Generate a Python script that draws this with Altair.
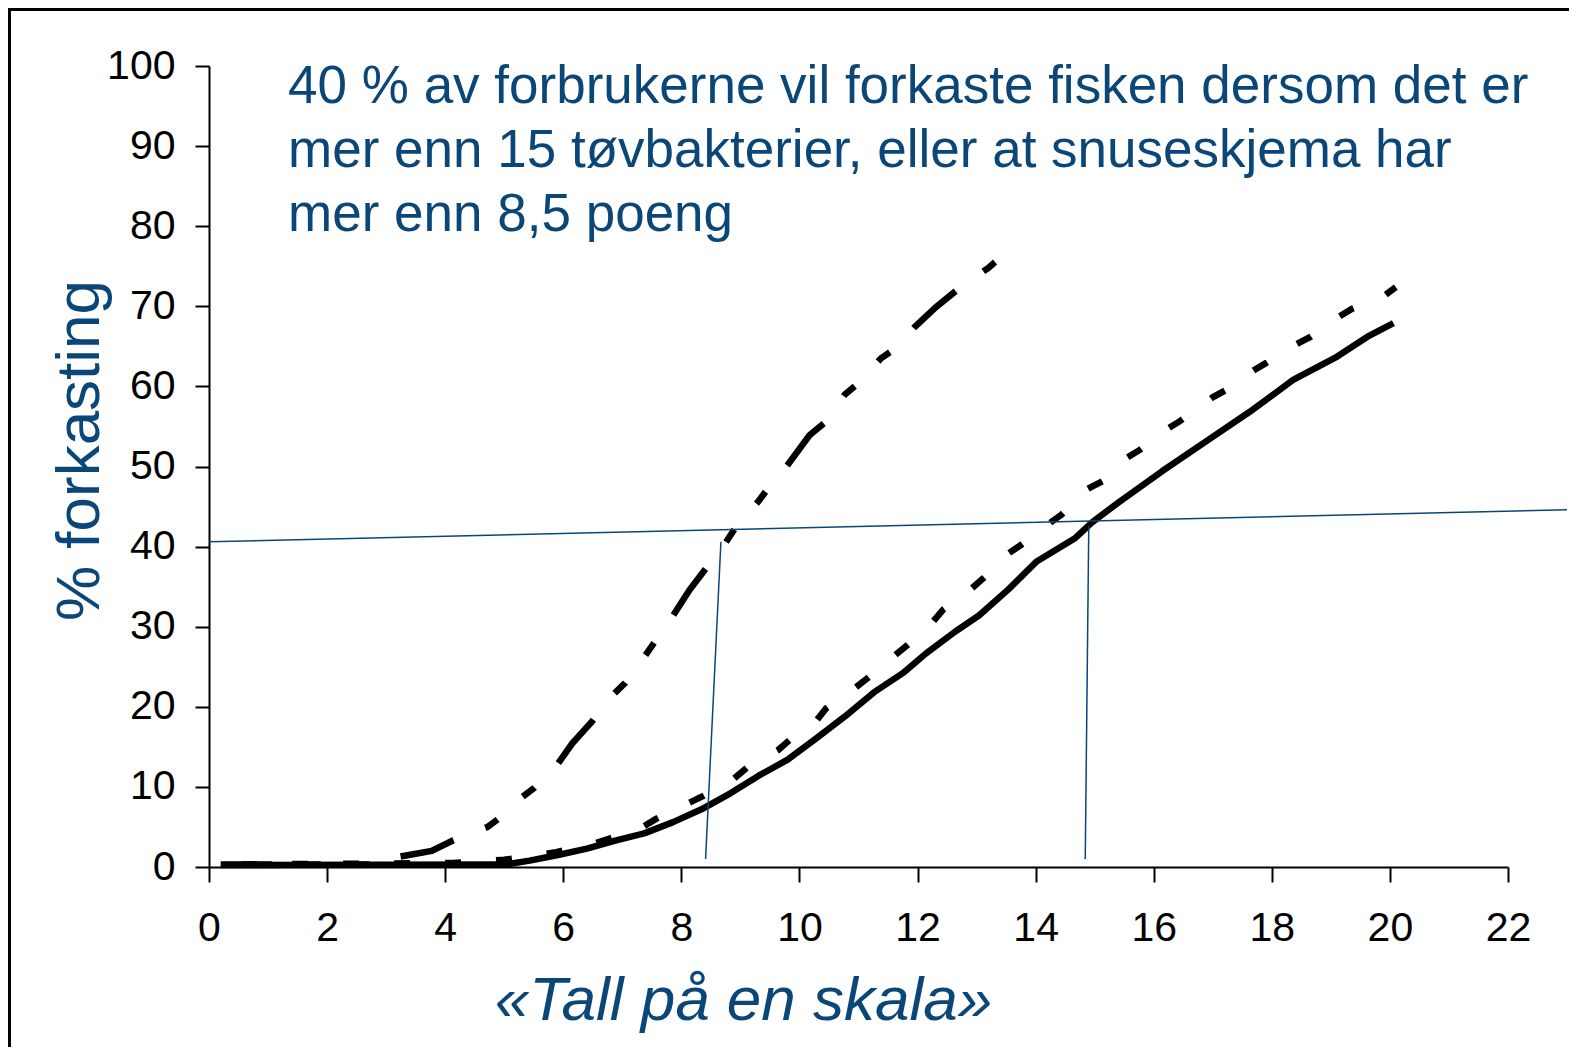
import altair as alt
import pandas as pd

BLUE = "#0A4678"
FONT = "Liberation Sans"

# Dash-dot curve (steepest)
a_x = [0.2, 3.1, 3.24, 3.77, 4.13, 4.72, 4.9, 5.3, 5.51, 5.91, 6.15, 6.48, 6.84, 7.05, 7.37, 7.53,
       7.86, 8.14, 8.42, 8.75, 8.91, 9.31, 9.44, 9.80, 10.17, 10.45, 10.77, 10.98, 11.38, 11.58,
       11.95, 12.31, 12.68, 13.20, 13.45]
a_y = [0.3, 0.3, 1.3, 2.0, 3.3, 5.0, 6.0, 8.7, 9.9, 12.9, 15.4, 18.1, 21.5, 23.0, 26.2, 27.9,
       31.4, 34.6, 37.3, 40.5, 42.3, 45.7, 47.0, 50.2, 53.9, 55.6, 59.0, 60.3, 63.5, 64.5,
       67.4, 69.9, 72.1, 74.8, 76.4]

# Dashed curve
b_x = [0.2, 4.13, 5.0, 5.85, 6.56, 6.76, 7.29, 7.57, 8.10, 8.38, 8.87, 9.11, 9.64, 9.84, 10.29,
       10.45, 10.93, 11.14, 11.58, 11.83, 12.27, 12.43, 12.92, 13.12, 13.53, 13.75, 14.25, 14.44,
       14.88, 15.14, 15.55, 15.77, 16.21, 16.43, 16.99, 17.21, 17.69, 17.92, 18.40, 18.66, 19.14,
       19.36, 19.92, 20.10]
b_y = [0.3, 0.5, 0.9, 1.8, 3.0, 3.5, 4.75, 6.0, 7.9, 8.9, 10.9, 12.4, 14.6, 15.9, 18.3,
       19.8, 22.3, 23.5, 26.2, 27.7, 30.7, 32.1, 34.8, 36.1, 39.1, 40.2, 43.0, 44.0,
       47.2, 48.2, 51.1, 52.1, 54.6, 55.6, 58.6, 59.5, 62.0, 63.0, 65.2, 66.2, 68.7,
       69.7, 71.4, 72.4]

# Solid curve
c_x = [0.2, 5.02, 5.43, 5.91, 6.40, 6.88, 7.37, 7.86, 8.34, 8.83, 9.31, 9.80, 10.29, 10.77, 11.26,
       11.75, 12.15, 12.64, 13.04, 13.53, 14.01, 14.66, 14.95, 15.40, 16.14, 16.88, 17.62, 18.36,
       19.10, 19.62, 20.06]
c_y = [0.25, 0.3, 0.8, 1.5, 2.3, 3.3, 4.2, 5.6, 7.2, 9.2, 11.4, 13.4, 16.1, 18.8, 21.8,
       24.2, 26.7, 29.4, 31.4, 34.6, 38.1, 41.0, 43.0, 45.5, 49.4, 53.1, 56.8, 60.8,
       63.7, 66.2, 67.9]

# Blue guide lines (segment id, x, y)
g_seg = ["h", "h", "v1", "v1", "v2", "v2"]
g_x = [0.0, 23.0, 8.41, 8.67, 14.84, 14.90]
g_y = [40.6, 44.6, 1.0, 40.6, 1.0, 42.5]

x_ticks = list(range(0, 23, 2))
y_ticks = list(range(0, 101, 10))

annotation = ["40 % av forbrukerne vil forkaste fisken dersom det er",
              "mer enn 15 tøvbakterier, eller at snuseskjema har",
              "mer enn 8,5 poeng"]

W, H = 1299, 801

xs = alt.Scale(domain=[0, 22], nice=False, zero=False)
ys = alt.Scale(domain=[0, 100], nice=False)

x_axis = alt.Axis(values=x_ticks, format="d", labelFlush=False, labelOverlap=False,
                  title="«Tall på en skala»", titleFontStyle="italic",
                  titleFontSize=62, titleColor=BLUE, titleFont=FONT, titleFontWeight="normal",
                  titleX=534, titleY=152, titleAlign="center", titleBaseline="alphabetic",
                  titleAngle=0, labelFontSize=41, labelPadding=26, tickSize=15)
y_axis = alt.Axis(values=y_ticks, format="d", labelFlush=False, labelOverlap=False,
                  title="% forkasting", titleFontSize=62, titleColor=BLUE,
                  titleFont=FONT, titleFontWeight="normal", titleX=-111, titleY=384,
                  titleAngle=270, titleAlign="center", titleBaseline="alphabetic",
                  labelFontSize=41, labelPadding=20, tickSize=14)

df_a = pd.DataFrame({"x": a_x, "y": a_y})
df_b = pd.DataFrame({"x": b_x, "y": b_y})
df_c = pd.DataFrame({"x": c_x, "y": c_y})
df_g = pd.DataFrame({"seg": g_seg, "x": g_x, "y": g_y})
df_t = pd.DataFrame({"t": [annotation]})

frame = alt.Chart(pd.DataFrame({"k": [0]})).mark_rect(
    filled=False, stroke="black", strokeWidth=3, fill=None
).encode(x=alt.value(-199.5), x2=alt.value(W + 400), y=alt.value(-56.5), y2=alt.value(H + 400))

LW = 6.5
line_c = alt.Chart(df_c).mark_line(color="black", strokeWidth=LW, strokeJoin="round").encode(
    x=alt.X("x:Q", scale=xs, axis=x_axis), y=alt.Y("y:Q", scale=ys, axis=y_axis), order="x:Q")
line_b = alt.Chart(df_b).mark_line(color="black", strokeWidth=LW, strokeDash=[16, 35],
                                   strokeDashOffset=30.7).encode(
    x=alt.X("x:Q", scale=xs), y=alt.Y("y:Q", scale=ys), order="x:Q")
line_a = alt.Chart(df_a).mark_line(color="black", strokeWidth=LW,
                                   strokeDash=[56, 34, 15, 34, 15, 34], strokeDashOffset=5).encode(
    x=alt.X("x:Q", scale=xs), y=alt.Y("y:Q", scale=ys), order="x:Q")

guides = alt.Chart(df_g).mark_line(color=BLUE, strokeWidth=1.5).encode(
    x=alt.X("x:Q", scale=xs), y=alt.Y("y:Q", scale=ys), detail="seg:N")

text = alt.Chart(df_t).mark_text(
    align="left", baseline="alphabetic", font=FONT, fontSize=53, color=BLUE, lineHeight=64
).encode(x=alt.datum(1.34), y=alt.datum(95.35), text="t")

chart = alt.layer(frame, line_c, line_b, line_a, guides, text).properties(
    width=W, height=H,
    autosize=alt.AutoSizeParams(type="none"),
    padding={"left": 201, "top": 58, "right": 61, "bottom": 180},
).configure_view(stroke=None).configure_axis(
    grid=False, domainColor="black", domainWidth=2, tickColor="black", tickWidth=2,
    labelFont=FONT, labelColor="black",
)

chart.save("out.html", embed_options={"renderer": "svg", "actions": False})
